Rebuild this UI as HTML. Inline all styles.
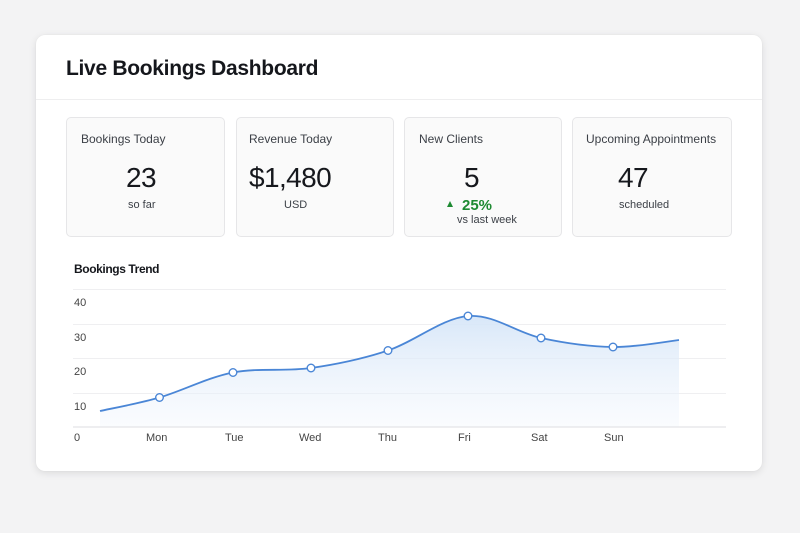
<!DOCTYPE html>
<html><head><meta charset="utf-8"><style>
*{margin:0;padding:0;box-sizing:border-box}
html,body{width:800px;height:533px;overflow:hidden;background:#f3f3f4;font-family:"Liberation Sans",sans-serif;color:#1d2129}
.card{position:absolute;left:36px;top:35px;width:726px;height:436px;background:#fff;border-radius:9px;box-shadow:0 2px 8px rgba(0,0,0,0.10),0 0 1px rgba(0,0,0,0.08)}
.t{position:absolute;white-space:nowrap;line-height:1}
.stat{position:absolute;top:117px;height:120px;background:#fafafa;border:1px solid #e6e6e8;border-radius:5px}
.lab{font-size:12px;color:#3c4047}
.num{font-size:28px;color:#16181d;letter-spacing:-0.6px}
.sub{font-size:11px;color:#3c4047}
.ax{font-size:11px;color:#444}
</style></head><body>
<div class="card"></div>
<div class="t" style="left:66px;top:58px;font-size:21px;font-weight:bold;letter-spacing:-0.3px;color:#15171c">Live Bookings Dashboard</div>
<div style="position:absolute;left:36px;top:99px;width:726px;height:1px;background:#eeeeef"></div>

<div class="stat" style="left:66px;width:159px"></div>
<div class="stat" style="left:236px;width:158px"></div>
<div class="stat" style="left:404px;width:158px"></div>
<div class="stat" style="left:572px;width:160px"></div>

<div class="t lab" style="left:81px;top:133px">Bookings Today</div>
<div class="t num" style="left:126px;top:164px">23</div>
<div class="t sub" style="left:128px;top:200px">so far</div>

<div class="t lab" style="left:249px;top:133px">Revenue Today</div>
<div class="t num" style="left:249px;top:164px">$1,480</div>
<div class="t sub" style="left:284px;top:200px">USD</div>

<div class="t lab" style="left:419px;top:133px">New Clients</div>
<div class="t num" style="left:464px;top:164px">5</div>
<div style="position:absolute;left:447px;top:201px;width:0;height:0;border-left:3.5px solid transparent;border-right:3.5px solid transparent;border-bottom:6px solid #1e8a32"></div>
<div class="t" style="left:462px;top:198px;font-size:15px;font-weight:bold;color:#1e8a32">25%</div>
<div class="t sub" style="left:457px;top:215px">vs last week</div>

<div class="t lab" style="left:586px;top:133px">Upcoming Appointments</div>
<div class="t num" style="left:618px;top:164px">47</div>
<div class="t sub" style="left:619px;top:200px">scheduled</div>

<div class="t" style="left:74px;top:263px;font-size:12px;font-weight:bold;letter-spacing:-0.4px;color:#15171c">Bookings Trend</div>

<svg style="position:absolute;left:0;top:0" width="800" height="533">
<defs><linearGradient id="g" x1="0" y1="0" x2="0" y2="1">
<stop offset="0" stop-color="#d6e6f8" stop-opacity="0.95"/>
<stop offset="1" stop-color="#eef4fc" stop-opacity="0.3"/>
</linearGradient></defs>
<g stroke="#efeff1" stroke-width="1">
<line x1="73" y1="289.5" x2="726" y2="289.5"/>
<line x1="73" y1="324.5" x2="726" y2="324.5"/>
<line x1="73" y1="358.5" x2="726" y2="358.5"/>
<line x1="73" y1="393.5" x2="726" y2="393.5"/>
</g>
<path d="M100,411 C109.9,408.75 137.3,403.9 159.5,397.5 C181.7,391.1 207.75,377.4 233,372.5 C258.25,367.6 285.2,371.7 311,368 C336.8,364.3 361.8,359.2 388,350.5 C414.2,341.8 442.5,318.1 468,316 C493.5,313.9 516.8,332.8 541,338 C565.2,343.2 590,346.7 613,347 C636,347.3 668,341.2 679,340 L679,427 L100,427 Z" fill="url(#g)"/>
<line x1="73" y1="427" x2="726" y2="427" stroke="#e4e4e7" stroke-width="1.2"/>
<path d="M100,411 C109.9,408.75 137.3,403.9 159.5,397.5 C181.7,391.1 207.75,377.4 233,372.5 C258.25,367.6 285.2,371.7 311,368 C336.8,364.3 361.8,359.2 388,350.5 C414.2,341.8 442.5,318.1 468,316 C493.5,313.9 516.8,332.8 541,338 C565.2,343.2 590,346.7 613,347 C636,347.3 668,341.2 679,340" fill="none" stroke="#4a86d6" stroke-width="1.8"/>
<g fill="#fff" stroke="#4a86d6" stroke-width="1.4">
<circle cx="159.5" cy="397.5" r="3.8"/>
<circle cx="233" cy="372.5" r="3.8"/>
<circle cx="311" cy="368" r="3.8"/>
<circle cx="388" cy="350.5" r="3.8"/>
<circle cx="468" cy="316" r="3.8"/>
<circle cx="541" cy="338" r="3.8"/>
<circle cx="613" cy="347" r="3.8"/>
</g>
</svg>

<div class="t ax" style="left:74px;top:298px">40</div>
<div class="t ax" style="left:74px;top:333px">30</div>
<div class="t ax" style="left:74px;top:367px">20</div>
<div class="t ax" style="left:74px;top:402px">10</div>
<div class="t ax" style="left:74px;top:433px">0</div>

<div class="t ax" style="left:146px;top:433px">Mon</div>
<div class="t ax" style="left:225px;top:433px">Tue</div>
<div class="t ax" style="left:299px;top:433px">Wed</div>
<div class="t ax" style="left:378px;top:433px">Thu</div>
<div class="t ax" style="left:458px;top:433px">Fri</div>
<div class="t ax" style="left:531px;top:433px">Sat</div>
<div class="t ax" style="left:604px;top:433px">Sun</div>
</body></html>
